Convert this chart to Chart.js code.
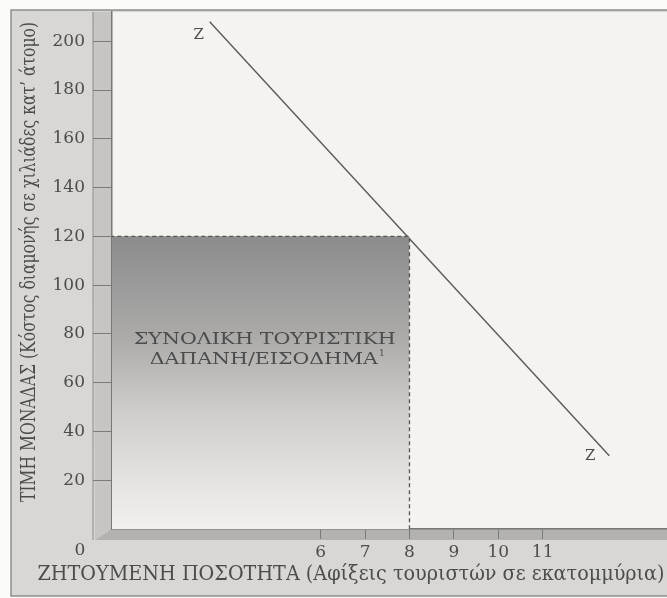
<!DOCTYPE html>
<html>
<head>
<meta charset="utf-8">
<script src="https://cdn.jsdelivr.net/npm/chart.js@4/dist/chart.umd.min.js"></script>
<style>
  body { margin: 0; background: #fbfbfa; }
  canvas { display: block; }
</style>
</head>
<body>
<canvas id="demandChart" width="667" height="598"></canvas>
<script>
// demand curve Z-Z (quantity in millions of arrivals, price in thousands)
const demandX = [3.5, 12.5];
const demandY = [208, 30];
// total tourist spending rectangle: price 120 x quantity 8
const spendX = [0, 8, 8];
const spendY = [120, 120, 0];

const xTicks = [6, 7, 8, 9, 10, 11];
const yTicks = [20, 40, 60, 80, 100, 120, 140, 160, 180, 200];

const curveName = 'Z';
const areaText = ['ΣΥΝΟΛΙΚΗ ΤΟΥΡΙΣΤΙΚΗ', 'ΔΑΠΑΝΗ/ΕΙΣΟΔΗΜΑ'];
const xTitle = 'ΖΗΤΟΥΜΕΝΗ ΠΟΣΟΤΗΤΑ (Αφίξεις τουριστών σε εκατομμύρια)';
const yTitle = 'ΤΙΜΗ ΜΟΝΑΔΑΣ (Κόστος διαμονής σε χιλιάδες κατ’ άτομο)';

const serif = '"DejaVu Serif", "Liberation Serif", serif';
const inkColor = '#4c4c4c';

const toPoints = (xs, ys) => xs.map((x, i) => ({ x: x, y: ys[i] }));

// stretch a line of text so it covers the printed width
function fitText(ctx, text, x, y, width, angle) {
  const m = ctx.measureText(text).width;
  ctx.save();
  ctx.translate(x, y);
  if (angle) ctx.rotate(angle);
  ctx.scale(width / m, 1);
  ctx.fillText(text, 0, 0);
  ctx.restore();
}

// draws the boxed 3d frame behind the plot
const framePlugin = {
  id: 'frame',
  beforeDraw(chart) {
    const { ctx, chartArea: a } = chart;
    const w = chart.width, h = chart.height;
    const depth = 19, floor = 11;
    ctx.save();
    ctx.fillStyle = '#fbfbfa';
    ctx.fillRect(0, 0, w, h);
    // outer panel
    ctx.fillStyle = '#d8d7d4';
    ctx.fillRect(11, 10, w - 11, h - 12);
    ctx.strokeStyle = '#8e8e8e';
    ctx.lineWidth = 1.5;
    ctx.strokeRect(11, 10, w, h - 12);
    // plot background
    ctx.fillStyle = '#f4f3f0';
    ctx.fillRect(a.left, a.top, a.right - a.left, a.bottom - a.top);
    // side wall
    ctx.beginPath();
    ctx.moveTo(a.left - depth, a.top);
    ctx.lineTo(a.left, a.top);
    ctx.lineTo(a.left, a.bottom);
    ctx.lineTo(a.left - depth + 2, a.bottom + floor);
    ctx.closePath();
    ctx.fillStyle = '#c6c5c2';
    ctx.fill();
    ctx.beginPath();
    ctx.moveTo(a.left - depth, a.top);
    ctx.lineTo(a.left - depth, a.bottom + floor);
    ctx.strokeStyle = '#8a8a8a';
    ctx.lineWidth = 1;
    ctx.stroke();
    // floor
    ctx.beginPath();
    ctx.moveTo(a.left - depth + 2, a.bottom + floor);
    ctx.lineTo(a.left, a.bottom);
    ctx.lineTo(a.right, a.bottom);
    ctx.lineTo(a.right, a.bottom + floor);
    ctx.closePath();
    ctx.fillStyle = '#b3b2af';
    ctx.fill();
    ctx.restore();
  },
  afterDraw(chart) {
    const { ctx } = chart;
    ctx.save();
    ctx.fillStyle = inkColor;
    ctx.textAlign = 'center';
    ctx.textBaseline = 'middle';
    ctx.font = '17px ' + serif;
    ctx.fillText('0', 80, 551);
    ctx.font = '20px ' + serif;
    fitText(ctx, xTitle, 351, 575, 627, 0);
    fitText(ctx, yTitle, 30, 262, 480, -Math.PI / 2);
    ctx.restore();
  }
};

// text on the plot: curve ends and the area caption
const labelPlugin = {
  id: 'labels',
  afterDatasetsDraw(chart) {
    const { ctx, scales: { x, y } } = chart;
    ctx.save();
    ctx.fillStyle = inkColor;
    ctx.textAlign = 'center';
    ctx.textBaseline = 'middle';
    ctx.font = '15px ' + serif;
    ctx.fillText(curveName, x.getPixelForValue(demandX[0]) - 11, y.getPixelForValue(demandY[0]) + 13);
    ctx.fillText(curveName, x.getPixelForValue(demandX[1]) - 19, y.getPixelForValue(demandY[1]));
    const cx = (x.getPixelForValue(x.min) + x.getPixelForValue(spendX[1])) / 2 + 4;
    ctx.font = '17px ' + serif;
    fitText(ctx, areaText[0], cx, y.getPixelForValue(77.5), 262, 0);
    fitText(ctx, areaText[1], cx - 1, y.getPixelForValue(69.5), 228, 0);
    ctx.font = '9px ' + serif;
    ctx.fillText('1', cx + 117, y.getPixelForValue(69.5) - 6);
    ctx.restore();
  }
};

const chartCtx = document.getElementById('demandChart').getContext('2d');
const demandChart = new Chart(chartCtx, {
  type: 'scatter',
  data: {
    datasets: [{
      label: 'Συνολική δαπάνη',
      data: toPoints(spendX, spendY),
      showLine: true,
      borderColor: '#555',
      borderWidth: 1.3,
      borderDash: [4, 3],
      pointRadius: 0,
      fill: 'origin',
      backgroundColor(context) {
        const { chart } = context;
        const { ctx, chartArea, scales } = chart;
        if (!chartArea) return 'rgba(150,150,150,0.6)';
        const top = scales.y.getPixelForValue(spendY[0]);
        const bottom = scales.y.getPixelForValue(0);
        const g = ctx.createLinearGradient(0, top, 0, bottom);
        g.addColorStop(0, '#8c8c8c');
        g.addColorStop(0.35, '#acabaa');
        g.addColorStop(0.6, '#cfcecb');
        g.addColorStop(1, '#f2f1ed');
        return g;
      }
    }, {
      label: 'Z',
      data: toPoints(demandX, demandY),
      showLine: true,
      borderColor: '#5a5a5a',
      borderWidth: 1.4,
      pointRadius: 0,
      fill: false
    }]
  },
  options: {
    responsive: false,
    animation: false,
    layout: { padding: { top: 12, left: 0, right: 0, bottom: 0 } },
    plugins: {
      legend: { display: false },
      tooltip: { enabled: false }
    },
    scales: {
      x: {
        type: 'linear',
        min: 1.3,
        max: 13.8,
        afterFit(scale) {
          scale.height = 69;
          scale.paddingLeft = 0;
          scale.paddingRight = 0;
        },
        afterBuildTicks(scale) { scale.ticks = xTicks.map(v => ({ value: v })); },
        grid: { drawOnChartArea: false, tickLength: 10, color: '#7a7a7a' },
        border: { color: '#777', width: 1.5 },
        ticks: {
          autoSkip: false,
          maxRotation: 0,
          padding: 3,
          color: inkColor,
          font: { family: serif, size: 17 }
        }
      },
      y: {
        type: 'linear',
        min: 0,
        max: 212,
        afterFit(scale) {
          scale.width = 112;
          scale.paddingTop = 0;
          scale.paddingBottom = 0;
        },
        afterBuildTicks(scale) { scale.ticks = yTicks.map(v => ({ value: v })); },
        grid: { drawOnChartArea: false, tickLength: 19, color: '#7a7a7a' },
        border: { color: '#777', width: 1.5 },
        ticks: {
          padding: 8,
          color: inkColor,
          font: { family: serif, size: 17 }
        }
      }
    }
  },
  plugins: [framePlugin, labelPlugin]
});
</script>
</body>
</html>
